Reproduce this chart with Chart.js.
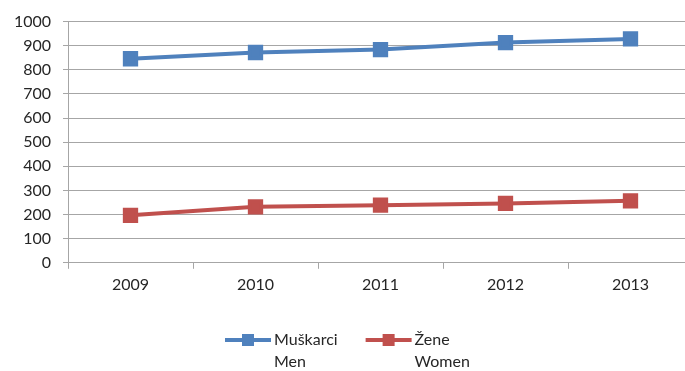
<!DOCTYPE html>
<html>
<head>
<meta charset="utf-8">
<script src="https://cdn.jsdelivr.net/npm/chart.js@4"></script>
<style>
  html, body { margin: 0; padding: 0; background: #fff; overflow: hidden; }
  #wrap { width: 705px; height: 371px; }
</style>
</head>
<body>
<div id="wrap"><canvas id="chartCanvas"></canvas></div>
<script>
// --- data ---
const years = ["2009", "2010", "2011", "2012", "2013"];
const menValues = [846, 872, 884, 913, 928];
const womenValues = [197, 232, 239, 246, 257];
const seriesLabels = [["Muškarci", "Men"], ["Žene", "Women"]];
const seriesColors = ["#4F81BD", "#C0504D"];

const gridGrey = "#A6A6A6";
const fontFamily = "Lato, 'Open Sans', sans-serif";

// draws the legend as line + square marker, with two-line labels
const bottomLegend = {
  id: "bottomLegend",
  afterDraw(chart) {
    const ctx = chart.ctx;
    const lineLen = 46, gap = 3, itemGap = 28, fontSize = 16;
    ctx.save();
    ctx.font = `${fontSize}px ${fontFamily}`;
    let x = 225;
    const y = 340;
    chart.data.datasets.forEach(ds => {
      const textW = Math.max(...ds.label.map(t => ctx.measureText(t).width));
      const c = ds.borderColor;
      ctx.strokeStyle = c;
      ctx.lineWidth = 4;
      ctx.beginPath();
      ctx.moveTo(x, y);
      ctx.lineTo(x + lineLen, y);
      ctx.stroke();
      ctx.fillStyle = c;
      ctx.fillRect(x + lineLen / 2 - 6, y - 6, 12, 12);
      ctx.fillStyle = "#262626";
      ctx.textBaseline = "middle";
      ctx.textAlign = "left";
      ds.label.forEach((t, i) => ctx.fillText(t, x + lineLen + gap, y + i * 22));
      x += lineLen + gap + textW + itemGap;
    });
    ctx.restore();
  }
};

const canvas = document.getElementById("chartCanvas");

new Chart(canvas, {
  type: "line",
  data: {
    labels: years,
    datasets: [
      {
        label: seriesLabels[0],
        data: menValues,
        borderColor: seriesColors[0],
        backgroundColor: seriesColors[0],
        borderWidth: 4,
        pointStyle: "rect",
        pointRadius: 8,
        pointHoverRadius: 8,
        tension: 0
      },
      {
        label: seriesLabels[1],
        data: womenValues,
        borderColor: seriesColors[1],
        backgroundColor: seriesColors[1],
        borderWidth: 4,
        pointStyle: "rect",
        pointRadius: 8,
        pointHoverRadius: 8,
        tension: 0
      }
    ]
  },
  options: {
    responsive: true,
    maintainAspectRatio: false,
    animation: false,
    layout: { padding: { top: 5, right: 0, left: 0, bottom: 71 } },
    plugins: {
      legend: { display: false },
      tooltip: { enabled: false }
    },
    scales: {
      x: {
        offset: true,
        grid: {
          offset: true,
          drawOnChartArea: false,
          drawTicks: true,
          tickLength: 6,
          color: gridGrey
        },
        border: { color: gridGrey },
        ticks: {
          color: "#262626",
          padding: 6,
          font: { family: fontFamily, size: 16 }
        }
      },
      y: {
        min: 0,
        max: 1000,
        afterFit(scale) { scale.width = 68; },
        grid: {
          color: gridGrey,
          tickLength: 5,
          drawTicks: true
        },
        border: { color: gridGrey },
        ticks: {
          stepSize: 100,
          color: "#262626",
          padding: 12,
          font: { family: fontFamily, size: 16 },
          callback: v => String(v)
        }
      }
    }
  },
  plugins: [bottomLegend]
});
</script>
</body>
</html>
